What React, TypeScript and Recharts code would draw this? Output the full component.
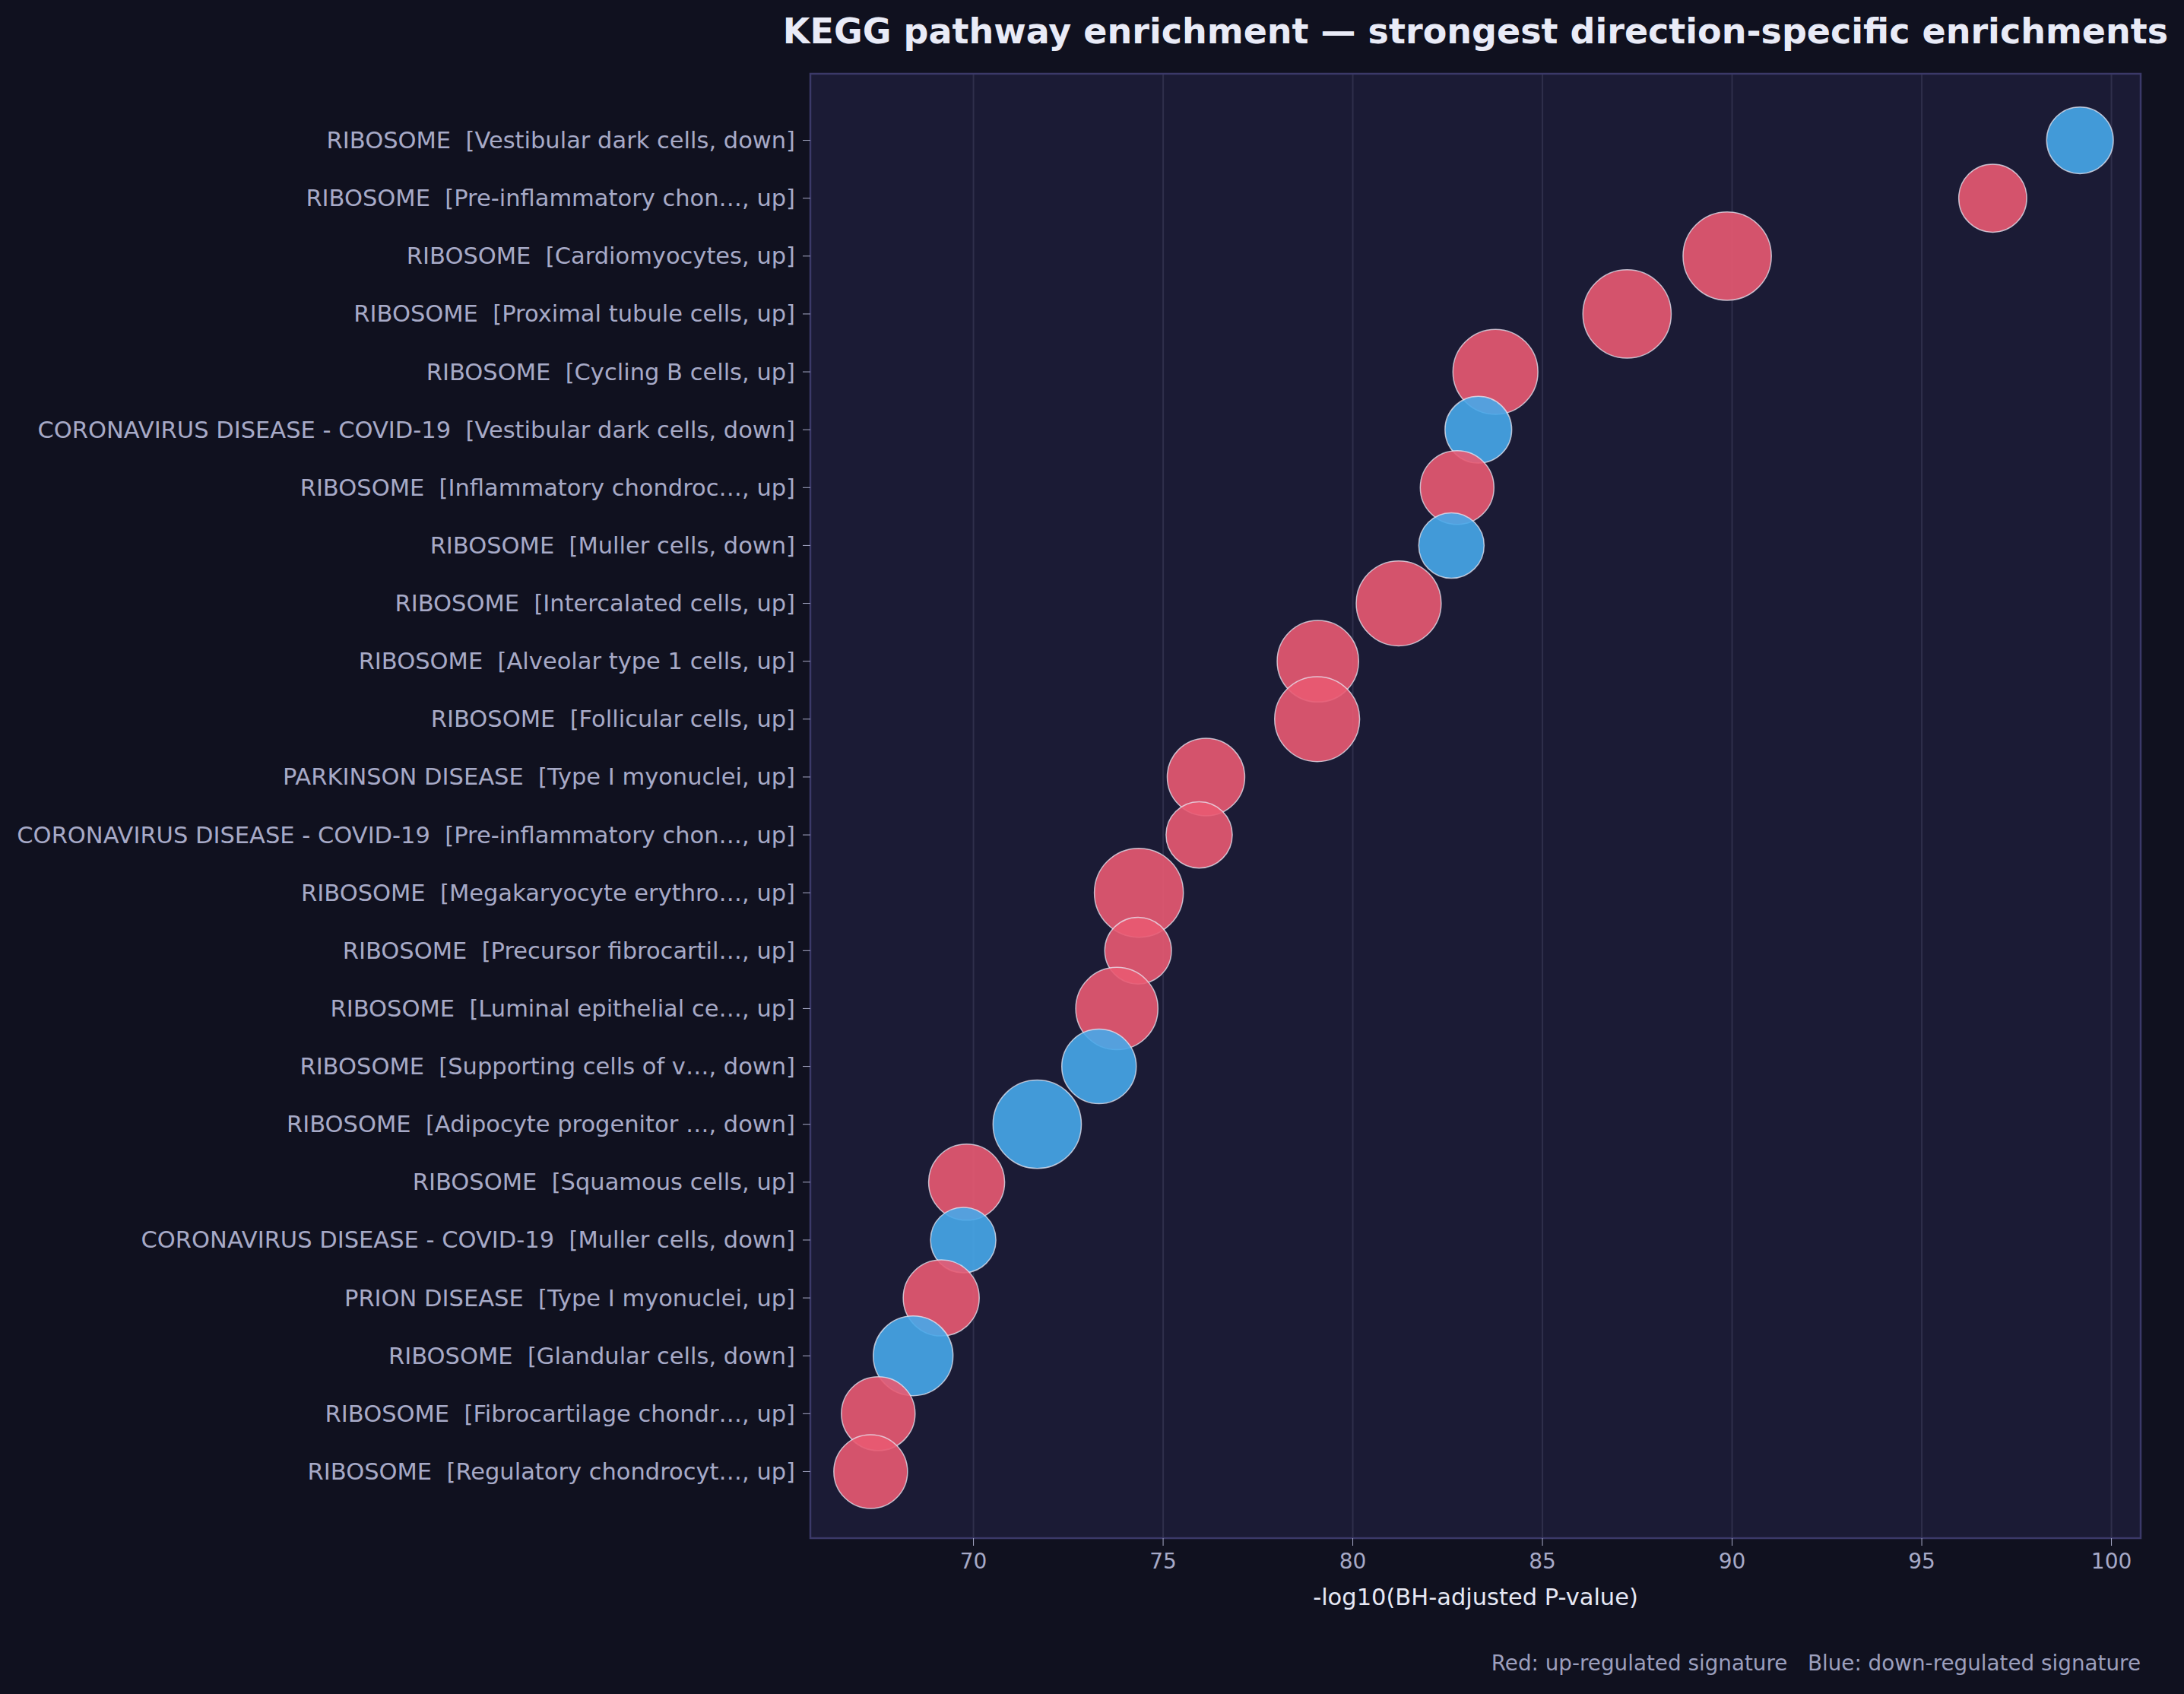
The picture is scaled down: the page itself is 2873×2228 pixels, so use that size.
import React from 'react';
import { ScatterChart, Scatter, XAxis, YAxis, ZAxis, CartesianGrid, ReferenceArea, Cell } from 'recharts';

const pathways = [
  'RIBOSOME', 'RIBOSOME', 'RIBOSOME', 'RIBOSOME', 'RIBOSOME',
  'CORONAVIRUS DISEASE - COVID-19', 'RIBOSOME', 'RIBOSOME', 'RIBOSOME', 'RIBOSOME',
  'RIBOSOME', 'PARKINSON DISEASE', 'CORONAVIRUS DISEASE - COVID-19', 'RIBOSOME', 'RIBOSOME',
  'RIBOSOME', 'RIBOSOME', 'RIBOSOME', 'RIBOSOME', 'CORONAVIRUS DISEASE - COVID-19',
  'PRION DISEASE', 'RIBOSOME', 'RIBOSOME', 'RIBOSOME',
];

const cellTypes = [
  'Vestibular dark cells', 'Pre-inflammatory chon…', 'Cardiomyocytes', 'Proximal tubule cells', 'Cycling B cells',
  'Vestibular dark cells', 'Inflammatory chondroc…', 'Muller cells', 'Intercalated cells', 'Alveolar type 1 cells',
  'Follicular cells', 'Type I myonuclei', 'Pre-inflammatory chon…', 'Megakaryocyte erythro…', 'Precursor fibrocartil…',
  'Luminal epithelial ce…', 'Supporting cells of v…', 'Adipocyte progenitor …', 'Squamous cells', 'Muller cells',
  'Type I myonuclei', 'Glandular cells', 'Fibrocartilage chondr…', 'Regulatory chondrocyt…',
];

const directions = [
  'down', 'up', 'up', 'up', 'up',
  'down', 'up', 'down', 'up', 'up',
  'up', 'up', 'up', 'up', 'up',
  'up', 'down', 'down', 'up', 'down',
  'up', 'down', 'up', 'up',
];

// -log10(BH-adjusted P-value)
const scores = [
  99.17, 96.87, 89.87, 87.23, 83.76,
  83.31, 82.75, 82.6, 81.21, 79.08,
  79.06, 76.13, 75.95, 74.36, 74.34,
  73.78, 73.31, 71.68, 69.82, 69.73,
  69.15, 68.41, 67.49, 67.29,
];

// overlapping genes (bubble size)
const genes = [
  77, 80, 135, 135, 125,
  77, 94, 74, 125, 115,
  125, 104, 76, 137, 77,
  117, 96, 135, 100, 74,
  100, 110, 94, 94,
];

const xTicks = [70, 75, 80, 85, 90, 95, 100];

const labels = pathways.map((p, i) => `${p}  [${cellTypes[i]}, ${directions[i]}]`);

const rows = scores.map((score, i) => ({
  row: i,
  score,
  genes: genes[i],
  direction: directions[i],
}));

const UP = '#e95a72';
const DOWN = '#47a9ea';
const FONT = '"DejaVu Sans", sans-serif';

const YTick = (props: any) => {
  const { x, y, payload } = props;
  return (
    <text
      x={x}
      y={y}
      textAnchor="end"
      dominantBaseline="central"
      fill="#a7aac7"
      fontSize={30.5}
      fontFamily={FONT}
      style={{ whiteSpace: 'pre' }}
    >
      {labels[payload.value]}
    </text>
  );
};

const App: React.FC = () => {
  return (
    <div
      style={{
        position: 'absolute',
        left: 0,
        top: 0,
        width: 2873,
        height: 2228,
        background: '#10111f',
        fontFamily: FONT,
        overflow: 'hidden',
      }}
    >
      <div
        style={{
          position: 'absolute',
          left: 1941,
          top: 18,
          transform: 'translateX(-50%)',
          whiteSpace: 'nowrap',
          fontSize: 46,
          lineHeight: '46px',
          fontWeight: 'bold',
          color: '#e9ebf7',
        }}
      >
        KEGG pathway enrichment — strongest direction-specific enrichments
      </div>

      <ScatterChart
        width={2873}
        height={2228}
        margin={{ top: 97, right: 57, bottom: 105, left: 0 }}
      >
        <CartesianGrid
          horizontal={false}
          stroke="#2f2f4b"
          strokeWidth={2}
          fill="#1b1b35"
          fillOpacity={1}
        />
        <XAxis
          type="number"
          dataKey="score"
          domain={[65.7, 100.77]}
          ticks={xTicks}
          allowDataOverflow
          height={100}
          tickSize={10}
          tickMargin={10}
          stroke="#a7aac7"
          axisLine={false}
          tick={{ fill: '#a7aac7', fontSize: 28, fontFamily: FONT }}
          label={{
            value: '-log10(BH-adjusted P-value)',
            position: 'insideBottom',
            offset: 12,
            fill: '#e6e8f4',
            fontSize: 30.5,
            fontFamily: FONT,
          }}
        />
        <YAxis
          type="number"
          dataKey="row"
          domain={[-1.15, 24.15]}
          reversed
          ticks={rows.map((r) => r.row)}
          interval={0}
          allowDataOverflow
          width={1066}
          tickSize={10}
          tickMargin={10}
          stroke="#a7aac7"
          axisLine={false}
          tick={<YTick />}
        />
        <ZAxis type="number" dataKey="genes" domain={[0, 150]} range={[0, 11781]} />
        <ReferenceArea
          x1={65.7}
          x2={100.77}
          y1={-1.15}
          y2={24.15}
          fill="none"
          stroke="#3b3968"
          strokeWidth={2.5}
          ifOverflow="visible"
        />
        <Scatter
          data={rows}
          shape="circle"
          isAnimationActive={false}
          fillOpacity={0.9}
          stroke="#e8e8f4"
          strokeOpacity={0.75}
          strokeWidth={1.5}
        >
          {rows.map((r) => (
            <Cell key={r.row} fill={r.direction === 'up' ? UP : DOWN} />
          ))}
        </Scatter>
      </ScatterChart>

      <div
        style={{
          position: 'absolute',
          right: 57,
          top: 2174,
          whiteSpace: 'pre',
          fontSize: 27.8,
          lineHeight: '27.8px',
          color: '#9c9fbd',
        }}
      >
        {'Red: up-regulated signature   Blue: down-regulated signature'}
      </div>
    </div>
  );
};

export default App;
